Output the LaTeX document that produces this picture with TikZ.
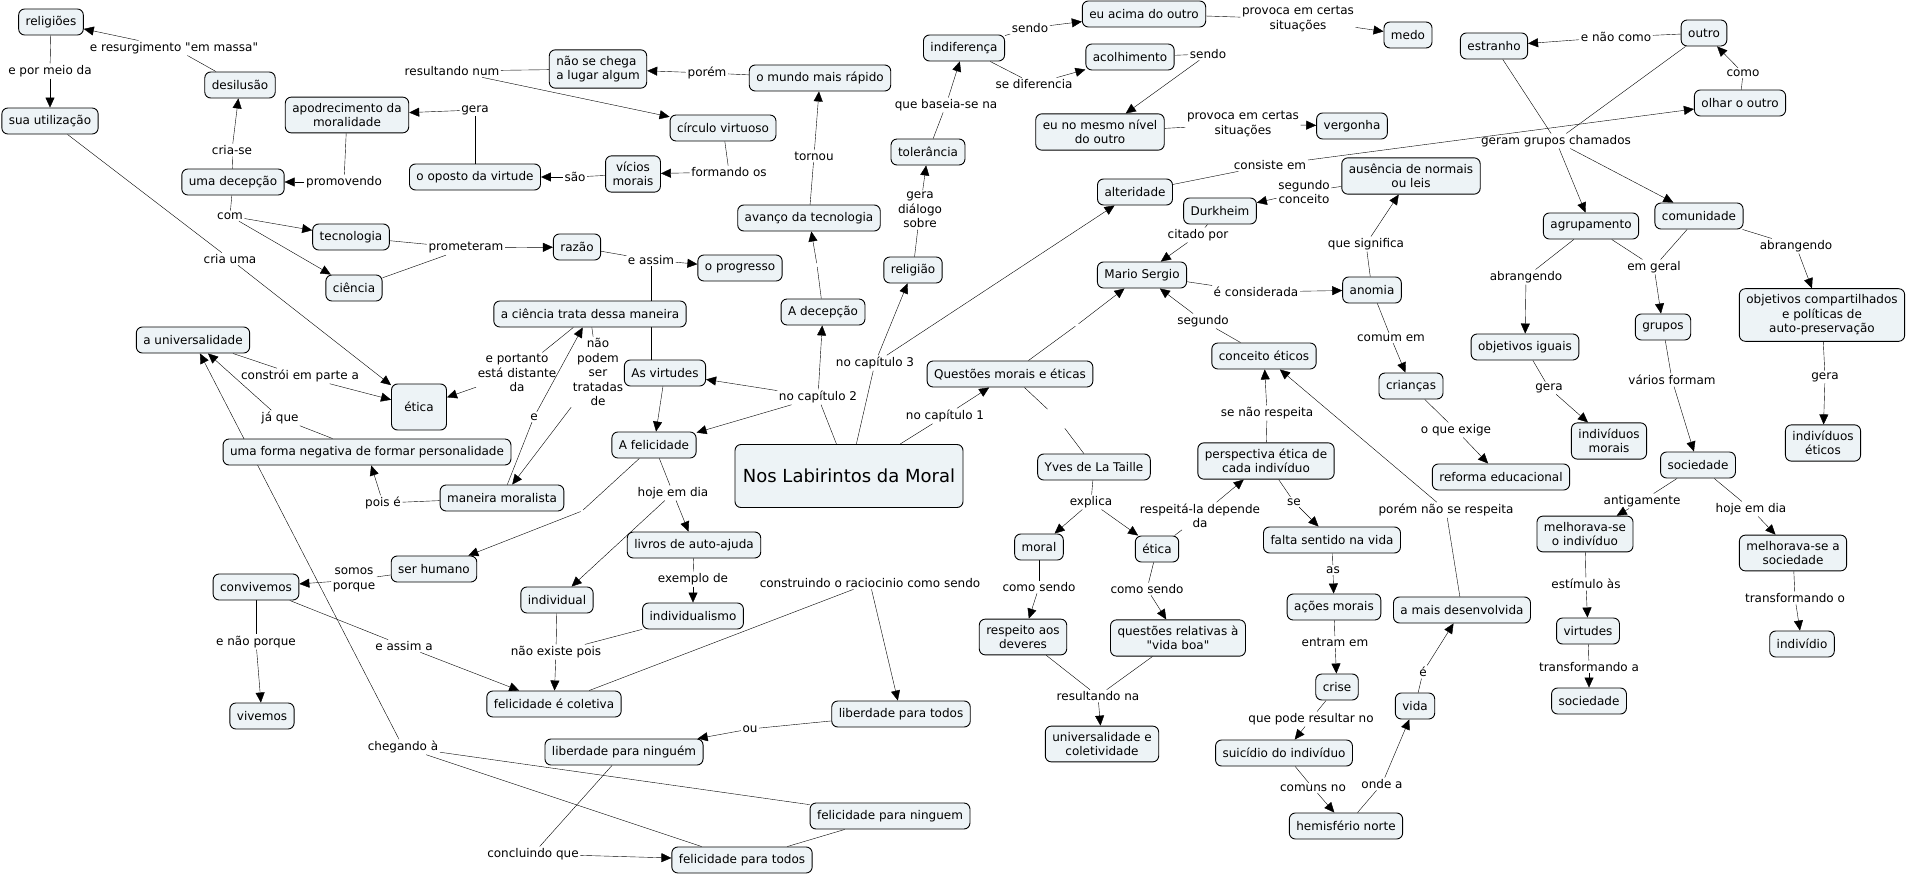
\documentclass[tikz,border=0pt]{standalone}
\usepackage{fontspec}
\setmainfont{DejaVu Sans}
\usepackage{tikz}
\usetikzlibrary{arrows.meta,backgrounds}
\definecolor{cfill}{RGB}{237,243,246}

\begin{document}
\begin{tikzpicture}[x=1pt,y=-1pt,
    concept/.style={draw,fill=cfill,rounded corners=6pt,line width=0.9pt,align=center,
      inner xsep=7pt,inner ysep=6pt,minimum height=26pt,font=\fontsize{12}{14.5}\selectfont},
    linkword/.style={inner sep=1.5pt,align=center,font=\fontsize{12}{14.5}\selectfont},
    arro/.style={-{Triangle[length=10pt,width=9pt]}}]
    \useasboundingbox (0,0) rectangle (1907,875);
    % concepts, left part
    \node[concept] (religioes) at (51,22) {religiões};
    \node[concept] (suautil) at (50,121) {sua utilização};
    \node[concept] (desilusao) at (240,85) {desilusão};
    \node[concept] (apodrec) at (347,115) {apodrecimento da\\moralidade};
    \node[concept] (decepcao) at (233,182) {uma decepção};
    \node[concept] (tecnologia) at (351,237) {tecnologia};
    \node[concept] (ciencia) at (354,288) {ciência};
    \node[concept] (oposto) at (475,177) {o oposto da virtude};
    \node[concept,align=left] (naochega) at (598,69) {não se chega\\a lugar algum};
    \node[concept] (mundo) at (820,78) {o mundo mais rápido};
    \node[concept] (circulo) at (723,128) {círculo virtuoso};
    \node[concept] (vicios) at (633,174) {vícios\\morais};
    \node[concept] (avanco) at (809,218) {avanço da tecnologia};
    \node[concept] (razao) at (577,247) {razão};
    \node[concept] (progresso) at (740,268) {o progresso};
    \node[concept] (cienciatrata) at (590,314) {a ciência trata dessa maneira};
    \node[concept] (decepcaoA) at (823,312) {A decepção};
    \node[concept] (virtudes) at (665,373) {As virtudes};
    \node[concept] (felicidade) at (654,445) {A felicidade};
    \node[concept,minimum width=228pt,minimum height=63pt,font=\fontsize{18}{22}\selectfont] (titulo) at (849,476) {Nos Labirintos da Moral};
    \node[concept] (livros) at (694,545) {livros de auto-ajuda};
    \node[concept] (universal) at (193,340) {a universalidade};
    \node[concept,minimum width=55pt,minimum height=46pt] (eticaA) at (419,407) {ética};
    \node[concept] (formaneg) at (367,452) {uma forma negativa de formar personalidade};
    \node[concept] (moralista) at (502,498) {maneira moralista};
    \node[concept] (serhumano) at (434,569) {ser humano};
    \node[concept] (convivemos) at (256,587) {convivemos};
    \node[concept] (vivemos) at (262,716) {vivemos};
    \node[concept] (individual) at (557,600) {individual};
    \node[concept] (individualismo) at (693,616) {individualismo};
    \node[concept] (felcoletiva) at (554,704) {felicidade é coletiva};
    \node[concept] (libtodos) at (901,714) {liberdade para todos};
    \node[concept] (libninguem) at (624,752) {liberdade para ninguém};
    \node[concept] (felninguem) at (890,816) {felicidade para ninguem};
    \node[concept] (feltodos) at (742,860) {felicidade para todos};
    % concepts, middle part
    \node[concept] (indiferenca) at (964,48) {indiferença};
    \node[concept] (euacima) at (1144,14) {eu acima do outro};
    \node[concept] (acolhimento) at (1130,57) {acolhimento};
    \node[concept] (medo) at (1408,35) {medo};
    \node[concept] (eumesmo) at (1100,132) {eu no mesmo nível\\do outro};
    \node[concept] (vergonha) at (1352,126) {vergonha};
    \node[concept] (tolerancia) at (928,152) {tolerância};
    \node[concept] (religiao) at (913,270) {religião};
    \node[concept] (alteridade) at (1135,192) {alteridade};
    \node[concept] (durkheim) at (1220,211) {Durkheim};
    \node[concept] (ausencia) at (1411,176) {ausência de normais\\ou leis};
    \node[concept] (mario) at (1142,275) {Mario Sergio};
    \node[concept] (anomia) at (1372,290) {anomia};
    \node[concept] (questoes) at (1010,374) {Questões morais e éticas};
    \node[concept] (conceito) at (1264,356) {conceito éticos};
    \node[concept] (criancas) at (1411,386) {crianças};
    \node[concept] (yves) at (1094,467) {Yves de La Taille};
    \node[concept] (perspectiva) at (1266,461) {perspectiva ética de\\cada indivíduo};
    \node[concept] (moral) at (1039,547) {moral};
    \node[concept] (eticaB) at (1157,549) {ética};
    \node[concept] (falta) at (1332,540) {falta sentido na vida};
    \node[concept] (acoes) at (1334,607) {ações morais};
    \node[concept] (respeito) at (1023,637) {respeito aos\\deveres};
    \node[concept] (questvida) at (1178,638) {questões relativas à\\\textquotedbl vida boa\textquotedbl};
    \node[concept] (crise) at (1337,687) {crise};
    \node[concept] (vida) at (1415,706) {vida};
    \node[concept] (univcolet) at (1102,744) {universalidade e\\coletividade};
    \node[concept] (suicidio) at (1284,753) {suicídio do indivíduo};
    \node[concept] (hemisferio) at (1346,826) {hemisfério norte};
    \node[concept] (maisdesenv) at (1462,610) {a mais desenvolvida};
    \node[concept] (reforma) at (1501,477) {reforma educacional};
    % concepts, right part
    \node[concept] (estranho) at (1494,46) {estranho};
    \node[concept] (outro) at (1704,33) {outro};
    \node[concept] (olhar) at (1740,103) {olhar o outro};
    \node[concept] (agrupamento) at (1591,226) {agrupamento};
    \node[concept] (comunidade) at (1699,216) {comunidade};
    \node[concept] (objcomp) at (1822,315) {objetivos compartilhados\\e políticas de\\auto-preservação};
    \node[concept] (objiguais) at (1525,347) {objetivos iguais};
    \node[concept] (grupos) at (1663,327) {grupos};
    \node[concept] (indmorais) at (1609,441) {indivíduos\\morais};
    \node[concept] (indeticos) at (1823,443) {indivíduos\\éticos};
    \node[concept] (sociedade) at (1698,465) {sociedade};
    \node[concept] (melhind) at (1585,534) {melhorava-se\\o indivíduo};
    \node[concept] (melhsoc) at (1793,553) {melhorava-se a\\sociedade};
    \node[concept] (virtudesB) at (1588,631) {virtudes};
    \node[concept] (individio) at (1802,644) {indivídio};
    \node[concept] (sociedadeB) at (1589,701) {sociedade};
    % linking words
    \node[linkword] (l1) at (174,48) {e resurgimento \textquotedbl em massa\textquotedbl};
    \node[linkword] (l2) at (50,71) {e por meio da};
    \node[linkword] (l3) at (230,259) {cria uma};
    \node[linkword] (l4) at (232,150) {cria-se};
    \node[linkword] (l5) at (344,182) {promovendo};
    \node[linkword] (l6) at (230,216) {com};
    \node[linkword] (l7) at (466,248) {prometeram};
    \node[linkword] (l8) at (651,260) {e assim};
    \node[linkword] (l9) at (818,397) {no capítulo 2};
    \node[linkword] (l10) at (875,363) {no capítulo 3};
    \node[linkword] (l11) at (945,416) {no capítulo 1};
    \node[linkword] (l12) at (814,156) {tornou};
    \node[linkword] (l13) at (946,105) {que baseia-se na};
    \node[linkword] (l14) at (920,210) {gera\\diálogo\\sobre};
    \node[linkword] (l15) at (1030,28) {sendo};
    \node[linkword] (l16) at (1034,84) {se diferencia};
    \node[linkword] (l17) at (1298,19) {provoca em certas\\situações};
    \node[linkword] (l18) at (1208,54) {sendo};
    \node[linkword] (l19) at (1243,124) {provoca em certas\\situações};
    \node[linkword] (l20) at (1270,165) {consiste em};
    \node[linkword] (l21) at (1304,192) {segundo\\conceito};
    \node[linkword] (l22) at (1198,235) {citado por};
    \node[linkword] (l23) at (1366,244) {que significa};
    \node[linkword] (l24) at (1256,292) {é considerada};
    \node[linkword] (l25) at (1616,37) {e não como};
    \node[linkword] (l26) at (1743,73) {como};
    \node[linkword] (l27) at (1556,141) {geram grupos chamados};
    \node[linkword] (l28) at (1526,277) {abrangendo};
    \node[linkword] (l29) at (1654,267) {em geral};
    \node[linkword] (l30) at (1796,246) {abrangendo};
    \node[linkword] (l31) at (1549,388) {gera};
    \node[linkword] (l32) at (1672,380) {vários formam};
    \node[linkword] (l33) at (1825,377) {gera};
    \node[linkword] (l34) at (1642,501) {antigamente};
    \node[linkword] (l35) at (1751,509) {hoje em dia};
    \node[linkword] (l36) at (1586,584) {estímulo às};
    \node[linkword] (l37) at (1795,598) {transformando o};
    \node[linkword] (l38) at (1589,667) {transformando a};
    \node[linkword] (l39) at (1391,338) {comum em};
    \node[linkword] (l40) at (1456,430) {o que exige};
    \node[linkword] (l41) at (1203,321) {segundo};
    \node[linkword] (l42) at (1267,413) {se não respeita};
    \node[linkword] (l43) at (1446,510) {porém não se respeita};
    \node[linkword] (l44) at (1091,502) {explica};
    \node[linkword] (l45) at (1200,516) {respeitá-la depende\\da};
    \node[linkword] (l46) at (1294,502) {se};
    \node[linkword] (l47) at (1333,570) {as};
    \node[linkword] (l48) at (1335,642) {entram em};
    \node[linkword] (l49) at (1311,719) {que pode resultar no};
    \node[linkword] (l50) at (1313,788) {comuns no};
    \node[linkword] (l51) at (1382,784) {onde a};
    \node[linkword] (l52) at (1423,672) {é};
    \node[linkword] (l53) at (1039,587) {como sendo};
    \node[linkword] (l54) at (1147,589) {como sendo};
    \node[linkword] (l55) at (1098,696) {resultando na};
    \node[linkword] (l56) at (300,376) {constrói em parte a};
    \node[linkword] (l57) at (517,373) {e portanto\\está distante\\da};
    \node[linkword] (l58) at (598,372) {não\\podem\\ser\\tratadas\\de};
    \node[linkword] (l59) at (534,417) {e};
    \node[linkword] (l60) at (280,418) {já que};
    \node[linkword] (l61) at (383,503) {pois é};
    \node[linkword] (l62) at (354,580) {somos\\porque};
    \node[linkword] (l63) at (256,642) {e não porque};
    \node[linkword] (l64) at (404,646) {e assim a};
    \node[linkword] (l65) at (403,747) {chegando à};
    \node[linkword] (l66) at (533,854) {concluindo que};
    \node[linkword] (l67) at (750,729) {ou};
    \node[linkword] (l68) at (870,583) {construindo o raciocinio como sendo};
    \node[linkword] (l69) at (673,493) {hoje em dia};
    \node[linkword] (l70) at (693,579) {exemplo de};
    \node[linkword] (l71) at (556,652) {não existe pois};
    \node[linkword] (l72) at (707,73) {porém};
    \node[linkword] (l73) at (452,71) {resultando num};
    \node[linkword] (l74) at (475,110) {gera};
    \node[linkword] (l75) at (575,177) {são};
    \node[linkword] (l76) at (729,172) {formando os};
    % empty links
    \coordinate (gapA) at (582,511);
    \coordinate (gapB) at (1077,325);
    \coordinate (gapC) at (1057,418);
    \coordinate (gapD) at (817,265);

    \begin{scope}[on background layer,line width=0.8pt]
    % left
    \draw (desilusao) -- (l1); \draw[arro] (l1) -- (religioes);
    \draw (religioes) -- (l2); \draw[arro] (l2) -- (suautil);
    \draw (suautil) -- (l3); \draw[arro] (l3) -- (eticaA);
    \draw (decepcao) -- (l4); \draw[arro] (l4) -- (desilusao);
    \draw (apodrec) -- (l5); \draw[arro] (l5) -- (decepcao);
    \draw (decepcao) -- (l6); \draw[arro] (l6) -- (tecnologia); \draw[arro] (l6) -- (ciencia);
    \draw (tecnologia) -- (l7); \draw (ciencia) -- (l7); \draw[arro] (l7) -- (razao);
    \draw (razao) -- (l8); \draw (l8) -- (l8 |- virtudes.north); \draw[arro] (l8) -- (progresso);
    \draw (oposto) -- (l74); \draw[arro] (l74) -- (apodrec);
    \draw (vicios) -- (l75); \draw[arro] (l75) -- (oposto);
    \draw (circulo) -- (l76); \draw[arro] (l76) -- (vicios);
    \draw (naochega) -- (l73); \draw[arro] (l73) -- (circulo);
    \draw (mundo) -- (l72); \draw[arro] (l72) -- (naochega);
    \draw (avanco) -- (l12); \draw[arro] (l12) -- (mundo);
    \draw[shorten >=2pt] (decepcaoA) -- (gapD); \draw[arro,shorten <=2pt] (gapD) -- (avanco);
    \draw (titulo) -- (l9); \draw[arro] (l9) -- (decepcaoA); \draw[arro] (l9) -- (virtudes); \draw[arro] (l9) -- (felicidade);
    \draw[arro] (virtudes) -- (felicidade);
    \draw (titulo) -- (l10); \draw[arro] (l10) -- (religiao); \draw[arro] (l10) -- (alteridade);
    \draw (titulo) -- (l11); \draw[arro] (l11) -- (questoes);
    \draw (universal) -- (l56); \draw[arro] (l56) -- (eticaA);
    \draw (cienciatrata) -- (l57); \draw[arro] (l57) -- (eticaA);
    \draw (cienciatrata) -- (l58); \draw[arro] (l58) -- (moralista);
    \draw (moralista) -- (l59); \draw[arro] (l59) -- (cienciatrata);
    \draw (formaneg) -- (l60); \draw[arro] (l60) -- (universal);
    \draw (moralista) -- (l61); \draw[arro] (l61) -- (formaneg);
    \draw[shorten >=1.5pt] (felicidade) -- (gapA); \draw[arro,shorten <=1.5pt] (gapA) -- (serhumano);
    \draw (serhumano) -- (l62); \draw[arro] (l62) -- (convivemos);
    \draw (convivemos) -- (l63); \draw[arro] (l63) -- (vivemos);
    \draw (convivemos) -- (l64); \draw[arro] (l64) -- (felcoletiva);
    \draw (felninguem) -- (l65); \draw (feltodos) -- (l65); \draw[arro] (l65) -- (universal);
    \draw (libninguem) -- (l66); \draw[arro] (l66) -- (feltodos);
    \draw (felninguem) -- (feltodos);
    \draw (libtodos) -- (l67); \draw[arro] (l67) -- (libninguem);
    \draw (felcoletiva) -- (l68); \draw[arro] (l68) -- (libtodos);
    \draw (felicidade) -- (l69); \draw[arro] (l69) -- (livros); \draw[arro] (l69) -- (individual);
    \draw (livros) -- (l70); \draw[arro] (l70) -- (individualismo);
    \draw (individual) -- (l71); \draw (individualismo) -- (l71); \draw[arro] (l71) -- (felcoletiva);
    % middle
    \draw (religiao) -- (l14); \draw[arro] (l14) -- (tolerancia);
    \draw (tolerancia) -- (l13); \draw[arro] (l13) -- (indiferenca);
    \draw (indiferenca) -- (l15); \draw[arro] (l15) -- (euacima);
    \draw (indiferenca) -- (l16); \draw[arro] (l16) -- (acolhimento);
    \draw (euacima) -- (l17); \draw[arro] (l17) -- (medo);
    \draw (acolhimento) -- (l18); \draw[arro] (l18) -- (eumesmo);
    \draw (eumesmo) -- (l19); \draw[arro] (l19) -- (vergonha);
    \draw (alteridade) -- (l20); \draw[arro] (l20) -- (olhar);
    \draw (ausencia) -- (l21); \draw[arro] (l21) -- (durkheim);
    \draw (durkheim) -- (l22); \draw[arro] (l22) -- (mario);
    \draw (anomia) -- (l23); \draw[arro] (l23) -- (ausencia);
    \draw (mario) -- (l24); \draw[arro] (l24) -- (anomia);
    \draw (anomia) -- (l39); \draw[arro] (l39) -- (criancas);
    \draw (criancas) -- (l40); \draw[arro] (l40) -- (reforma);
    \draw (conceito) -- (l41); \draw[arro] (l41) -- (mario);
    \draw (perspectiva) -- (l42); \draw[arro] (l42) -- (conceito);
    \draw (maisdesenv) -- (l43); \draw[arro] (l43) -- (conceito);
    \draw[shorten >=2pt] (questoes) -- (gapB); \draw[arro,shorten <=2pt] (gapB) -- (mario);
    \draw[shorten >=13pt] (questoes) -- (gapC); \draw[shorten <=13pt] (gapC) -- (yves);
    \draw (yves) -- (l44); \draw[arro] (l44) -- (moral); \draw[arro] (l44) -- (eticaB);
    \draw (eticaB) -- (l45); \draw[arro] (l45) -- (perspectiva);
    \draw (perspectiva) -- (l46); \draw[arro] (l46) -- (falta);
    \draw (falta) -- (l47); \draw[arro] (l47) -- (acoes);
    \draw (acoes) -- (l48); \draw[arro] (l48) -- (crise);
    \draw (crise) -- (l49); \draw[arro] (l49) -- (suicidio);
    \draw (suicidio) -- (l50); \draw[arro] (l50) -- (hemisferio);
    \draw (hemisferio) -- (l51); \draw[arro] (l51) -- (vida);
    \draw (vida) -- (l52); \draw[arro] (l52) -- (maisdesenv);
    \draw (moral) -- (l53); \draw[arro] (l53) -- (respeito);
    \draw (eticaB) -- (l54); \draw[arro] (l54) -- (questvida);
    \draw (respeito) -- (l55); \draw (questvida) -- (l55); \draw[arro] (l55) -- (univcolet);
    % right
    \draw (olhar) -- (l26); \draw[arro] (l26) -- (outro);
    \draw (outro) -- (l25); \draw[arro] (l25) -- (estranho);
    \draw (estranho) -- (l27); \draw (outro) -- (l27); \draw[arro] (l27) -- (agrupamento); \draw[arro] (l27) -- (comunidade);
    \draw (agrupamento) -- (l28); \draw[arro] (l28) -- (objiguais);
    \draw (agrupamento) -- (l29); \draw (comunidade) -- (l29); \draw[arro] (l29) -- (grupos);
    \draw (comunidade) -- (l30); \draw[arro] (l30) -- (objcomp);
    \draw (objiguais) -- (l31); \draw[arro] (l31) -- (indmorais);
    \draw (grupos) -- (l32); \draw[arro] (l32) -- (sociedade);
    \draw (objcomp) -- (l33); \draw[arro] (l33) -- (indeticos);
    \draw (sociedade) -- (l34); \draw[arro] (l34) -- (melhind);
    \draw (sociedade) -- (l35); \draw[arro] (l35) -- (melhsoc);
    \draw (melhind) -- (l36); \draw[arro] (l36) -- (virtudesB);
    \draw (melhsoc) -- (l37); \draw[arro] (l37) -- (individio);
    \draw (virtudesB) -- (l38); \draw[arro] (l38) -- (sociedadeB);
    \end{scope}
  \end{tikzpicture}
\end{document}
